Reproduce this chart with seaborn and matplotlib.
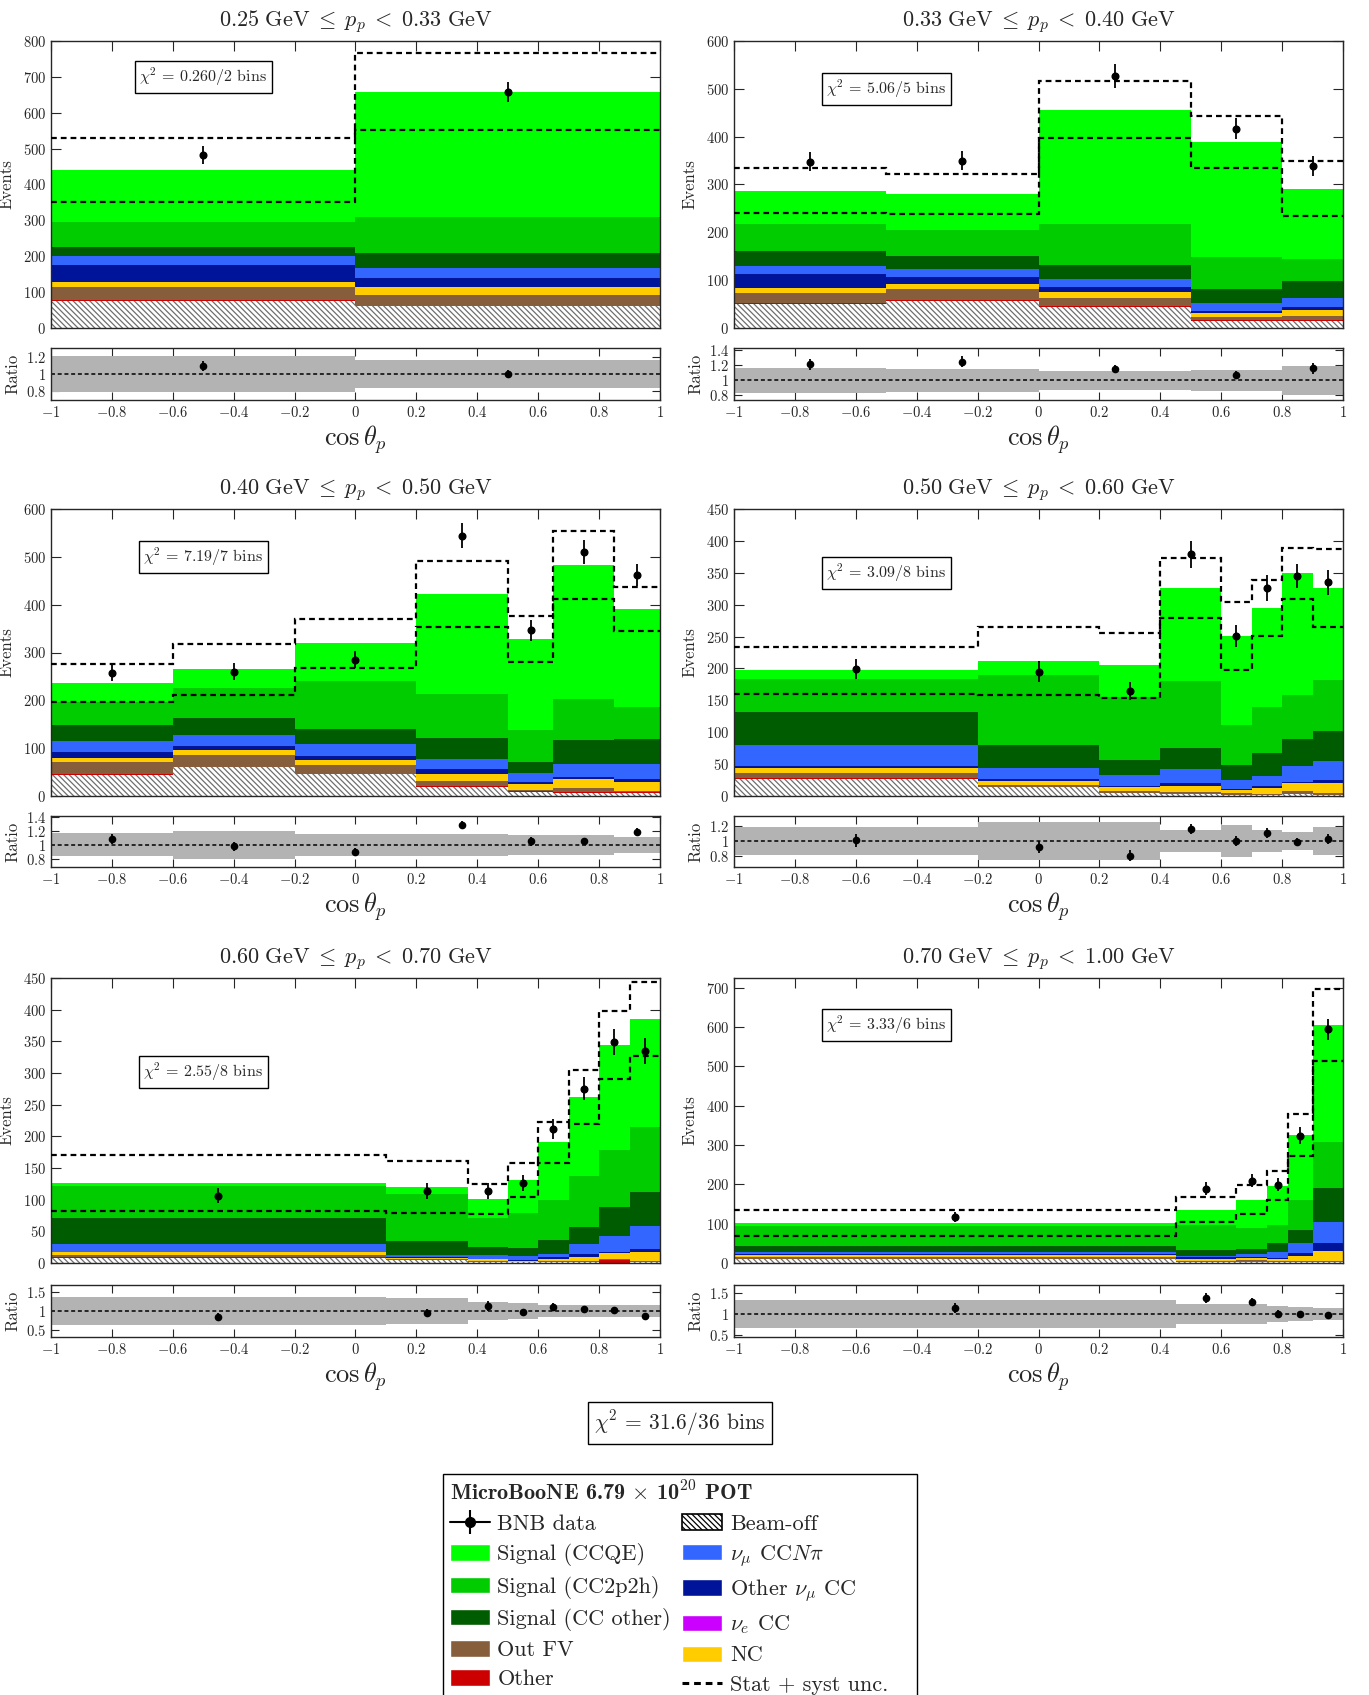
import numpy as np
import pandas as pd
import matplotlib
matplotlib.use("Agg")
import matplotlib.pyplot as plt
import seaborn as sns
from matplotlib.patches import Patch, Rectangle
from matplotlib.lines import Line2D
from matplotlib.ticker import FuncFormatter, FixedLocator

# ------------------------------------------------------------------ data
p_lo = [0.25, 0.33, 0.40, 0.50, 0.60, 0.70]
p_hi = [0.33, 0.40, 0.50, 0.60, 0.70, 1.00]

bin_edges = [
    [-1, 0, 1],
    [-1, -0.5, 0, 0.5, 0.8, 1],
    [-1, -0.6, -0.2, 0.2, 0.5, 0.65, 0.85, 1],
    [-1, -0.2, 0.2, 0.4, 0.6, 0.7, 0.8, 0.9, 1],
    [-1, 0.1, 0.37, 0.5, 0.6, 0.7, 0.8, 0.9, 1],
    [-1, 0.45, 0.65, 0.75, 0.82, 0.9, 1],
]

beam_off = [
    [75, 60],
    [51, 57, 43, 15, 15],
    [44, 60, 45, 19, 8.5, 6, 5.5],
    [27.3, 13.6, 5, 3, 2, 1.5, 2.6, 2],
    [8.4, 4, 1.5, 1, 1.5, 1, 0.5, 1],
    [11, 3.4, 3.4, 2.5, 1.7, 1.7],
]
other = [
    [3, 1],
    [1.5, 1, 2, 1, 1],
    [1.5, 1, 1, 1, 2, 2, 2],
    [1.5, 1, 0, 0, 0, 0, 0, 0],
    [0.5, 0, 0, 0, 0, 0, 3.7, 1],
    [0, 0, 0, 0, 0, 0],
]
out_fv = [
    [35, 32],
    [20.5, 23, 18, 7, 10],
    [26, 24.5, 19, 12, 2.5, 8, 2.5],
    [7.9, 3.3, 2.3, 3, 2, 1.5, 5.8, 2],
    [3.1, 2, 1.1, 1, 1.5, 1.6, 1.6, 1.7],
    [3.4, 2.6, 3.4, 2.5, 3.3, 2.3],
]
nc = [
    [15, 21],
    [10, 12, 12, 8, 11],
    [8.5, 10.5, 11, 13, 12, 19, 19.5],
    [7.3, 5.6, 6.7, 10, 6, 9.6, 12.6, 16],
    [5, 2.4, 3.4, 1, 4, 7.4, 10.5, 14.3],
    [5.6, 5, 5.9, 6, 12.8, 25.6],
]
nue_cc = [
    [0, 0],
    [0, 0, 0, 0, 0],
    [0, 0, 0, 0, 0, 0, 0],
    [0, 0, 0, 0, 0, 0, 0, 0],
    [0, 0, 0, 0, 0, 0, 0, 0],
    [0, 0, 0, 0, 0, 0],
]
other_numu_cc = [
    [48, 24],
    [30.5, 13.5, 10, 5.5, 7],
    [12, 8, 7.5, 10.5, 5, 5, 7],
    [2.7, 3.7, 1, 5, 1.5, 3.4, 1.6, 5],
    [1, 1.1, 1, 1, 2, 4.7, 1.7, 4],
    [3, 3.4, 2.3, 1.7, 6.7, 20.4],
]
numu_ccnpi = [
    [24, 29],
    [15.5, 16.5, 18, 16.5, 18],
    [23, 23, 25.5, 21.5, 18, 27, 30],
    [33.3, 17.3, 18, 21, 13.5, 15.5, 24.4, 30.6],
    [12, 3.1, 5, 6.5, 6, 15.3, 24.6, 36.4],
    [4, 2.6, 8, 14.3, 26.2, 55],
]
signal_cc_other = [
    [26, 41],
    [31.5, 28, 29.5, 29, 35.5],
    [34, 36, 32, 44, 24, 50, 52],
    [51, 35, 23.7, 33, 24, 35.5, 42, 46.4],
    [41.6, 21.4, 14, 13.2, 21, 27, 46.4, 54.2],
    [15, 15, 11.7, 23.7, 34.3, 86],
]
signal_cc2p2h = [
    [70, 102],
    [56.5, 54, 84.5, 67, 47.5],
    [48, 62, 100, 93, 65, 86, 67.5],
    [52, 110, 98, 105, 63, 72, 69, 80.6],
    [50, 75.5, 45.6, 55.8, 64, 80, 89, 102.4],
    [52.7, 65, 53.3, 45.7, 75, 116],
]
signal_ccqe = [
    [145, 349],
    [70, 75, 239, 240, 146],
    [39.5, 40, 78, 208, 191, 280.5, 204],
    [14, 22.5, 50, 146, 139, 156, 191, 143.4],
    [4.4, 11, 28.9, 51, 90.5, 125, 165.7, 170],
    [7.3, 39, 73.5, 100.6, 166, 298],
]

bnb_data = [
    [483, 659],
    [348, 350, 527, 417, 338],
    [258, 260, 285, 544.5, 346, 510, 461],
    [199, 195, 165, 379, 251, 326, 345, 335],
    [106, 113.7, 114, 126, 212, 275, 349.5, 335],
    [116.6, 189, 209, 199.5, 324, 595],
]
bnb_data_err = [
    [25, 28],
    [20, 20.5, 25, 22, 21],
    [17.5, 17.5, 18, 25.5, 21, 25, 23],
    [16, 16, 14.5, 21, 17.5, 20, 19, 19.5],
    [12, 12, 12.5, 12.5, 16, 18, 20.5, 20],
    [13, 17, 16.5, 16, 21, 26.5],
]
stat_syst_unc = [
    [90, 107],
    [47.5, 41.5, 59.5, 54, 57.5],
    [39.5, 53, 51.5, 68.5, 48, 71.5, 46],
    [37, 53, 51, 47.5, 53.5, 44, 40, 60.5],
    [44.5, 41, 23.5, 26.7, 32, 43, 53.5, 58],
    [33.5, 32.5, 37.5, 37, 53.5, 92],
]

chi2_values = ["0.260", "5.06", "7.19", "3.09", "2.55", "3.33"]
chi2_bins = [2, 5, 7, 8, 8, 6]
chi2_total = "31.6"
chi2_total_bins = 36

events_ymax = [800, 600, 600, 450, 450, 725]
events_ticks = [
    list(range(0, 801, 100)),
    list(range(0, 601, 100)),
    list(range(0, 601, 100)),
    list(range(0, 451, 50)),
    list(range(0, 451, 50)),
    list(range(0, 701, 100)),
]
ratio_ylim = [(0.7, 1.3), (0.74, 1.43), (0.68, 1.42), (0.66, 1.33), (0.32, 1.68), (0.45, 1.70)]
ratio_ticks = [[0.8, 1, 1.2], [0.8, 1, 1.2, 1.4], [0.8, 1, 1.2, 1.4], [0.8, 1, 1.2],
               [0.5, 1, 1.5], [0.5, 1, 1.5]]
chi2_box_y = [0.875, 0.833, 0.833, 0.777, 0.67, 0.835]

# ------------------------------------------------------------------ style
sns.set_style("ticks")
plt.rcParams["font.family"] = "cmr10"
plt.rcParams["mathtext.fontset"] = "cm"
plt.rcParams["axes.formatter.use_mathtext"] = True
plt.rcParams["axes.unicode_minus"] = False
plt.rcParams["hatch.linewidth"] = 0.9
plt.rcParams["axes.linewidth"] = 1.0

layer_colors = ["white", "#cc0000", "#865e3c", "#ffcc00", "#cc00ff",
                "#00149a", "#3366ff", "#005c00", "#00cc00", "#00ff00"]
hatch_color = "#6e6e6e"
hatch_pattern = "\\\\\\\\\\\\"
dash = (0, (2.6, 1.8))

W, H = 1369, 1695
fig = plt.figure(figsize=(W / 100, H / 100), dpi=100)


def rect(x0, y0, x1, y1):
    return [x0 / W, 1 - y1 / H, (x1 - x0) / W, (y1 - y0) / H]


col_x = [(51, 660), (734, 1343)]
row_y = [((41, 328), (348, 400)), ((509, 796), (816, 867)), ((978, 1263), (1285, 1337))]

num_fmt = FuncFormatter(lambda v, pos: f"${np.round(v, 3) + 0.0:g}$")
xt = np.round(np.arange(-1, 1.001, 0.2), 2) + 0.0

for i in range(6):
    r, c = divmod(i, 2)
    (my0, my1), (ry0, ry1) = row_y[r]
    x0, x1 = col_x[c]
    ax = fig.add_axes(rect(x0, my0, x1, my1))
    axr = fig.add_axes(rect(x0, ry0, x1, ry1))

    edges = np.array(bin_edges[i], float)
    centers = 0.5 * (edges[1:] + edges[:-1])
    layers = [beam_off[i], other[i], out_fv[i], nc[i], nue_cc[i], other_numu_cc[i],
              numu_ccnpi[i], signal_cc_other[i], signal_cc2p2h[i], signal_ccqe[i]]
    cum = np.cumsum(np.array(layers, float), axis=0)
    mc = cum[-1]

    # stacked histogram: draw cumulative totals from the top down
    for k in reversed(range(len(layers))):
        df = pd.DataFrame({"cos": centers, "w": cum[k]})
        n_before = len(ax.collections)
        sns.histplot(data=df, x="cos", weights="w", bins=list(bin_edges[i]),
                     element="step", fill=True, color=layer_colors[k], alpha=1,
                     linewidth=0, ax=ax)
        if k == 0:
            for coll in ax.collections[n_before:]:
                coll.set_facecolor("white")
                coll.set_edgecolor(hatch_color)
                coll.set_hatch(hatch_pattern)
                coll.set_linewidth(0)

    unc = np.array(stat_syst_unc[i], float)
    ax.stairs(mc + unc, edges, baseline=None, color="k", lw=1.6, ls=dash, zorder=4)
    ax.stairs(mc - unc, edges, baseline=None, color="k", lw=1.6, ls=dash, zorder=4)

    d = np.array(bnb_data[i], float)
    de = np.array(bnb_data_err[i], float)
    ax.errorbar(centers, d, yerr=de, fmt="o", color="k", ms=4.8, elinewidth=1.3,
                capsize=0, zorder=6)

    ax.set_xlim(-1, 1)
    ax.set_ylim(0, events_ymax[i])
    ax.set_xticks(xt)
    ax.yaxis.set_major_locator(FixedLocator(events_ticks[i]))
    ax.yaxis.set_major_formatter(num_fmt)
    ax.tick_params(direction="in", top=True, right=True, length=7, width=0.8,
                   labelbottom=False, labelsize=10.5)
    ax.set_xlabel("")
    ax.set_ylabel("Events", fontsize=12, labelpad=6)
    ax.set_title(rf"${p_lo[i]:.2f}\ \mathrm{{GeV}}\;\leq\;p_p\;<\;{p_hi[i]:.2f}\ \mathrm{{GeV}}$",
                 fontsize=16, pad=11)
    ax.text(0.25, chi2_box_y[i], rf"$\chi^2\,=\,{chi2_values[i]}/{chi2_bins[i]}$ bins",
            transform=ax.transAxes, ha="center", va="center", fontsize=11.5, zorder=7,
            bbox=dict(boxstyle="square,pad=0.3", fc="white", ec="black", lw=1.0))

    # ratio panel
    rel = unc / mc
    axr.stairs(1 + rel, edges, baseline=1 - rel, fill=True, color="#b3b3b3", lw=0)
    axr.axhline(1, color="k", ls=dash, lw=1.1)
    axr.errorbar(centers, d / mc, yerr=de / mc, fmt="o", color="k", ms=4.5,
                 elinewidth=1.3, capsize=0, zorder=6)
    axr.set_xlim(-1, 1)
    axr.set_ylim(*ratio_ylim[i])
    axr.set_xticks(xt)
    axr.xaxis.set_major_formatter(num_fmt)
    axr.yaxis.set_major_locator(FixedLocator(ratio_ticks[i]))
    axr.yaxis.set_major_formatter(num_fmt)
    axr.tick_params(direction="in", top=True, right=True, length=6, width=0.8,
                    labelsize=10.5)
    axr.set_ylabel("Ratio", fontsize=12, labelpad=4)
    axr.set_xlabel(r"$\cos\theta_p$", fontsize=19, labelpad=2)

# total chi2
fig.text(680 / W, 1 - 1423 / H, rf"$\chi^2\,=\,{chi2_total}/{chi2_total_bins}$ bins",
         ha="center", va="center", fontsize=15.5,
         bbox=dict(boxstyle="square,pad=0.3", fc="white", ec="black", lw=1.0))

# legend
h_data = (Line2D([], [], color="k", lw=1.5, marker="o", ms=7),
          Line2D([], [], color="k", ls="none", marker="|", ms=17, mew=1.5))
handles = [
    h_data,
    Patch(fc=layer_colors[9]), Patch(fc=layer_colors[8]), Patch(fc=layer_colors[7]),
    Patch(fc=layer_colors[2]), Patch(fc=layer_colors[1]),
    Patch(fc="white", ec="black", hatch=hatch_pattern, lw=1.2),
    Patch(fc=layer_colors[6]), Patch(fc=layer_colors[5]), Patch(fc=layer_colors[4]),
    Patch(fc=layer_colors[3]),
    Line2D([], [], color="k", lw=2.2, ls=(0, (2.2, 1.6))),
]
labels = [
    "BNB data", "Signal (CCQE)", "Signal (CC2p2h)", "Signal (CC other)", "Out FV", "Other",
    "Beam-off", r"$\nu_\mu$ CC$N\pi$", r"Other $\nu_\mu$ CC", r"$\nu_e$ CC", "NC",
    "Stat + syst unc.",
]
leg = fig.legend(handles, labels, ncol=2, loc="upper left",
                 bbox_to_anchor=(443 / W, 1 - 1474 / H), borderaxespad=0,
                 frameon=False, fontsize=16,
                 title=r"MicroBooNE 6.79 $\mathbf{\times}$ 10$^{\mathbf{20}}$ POT",
                 title_fontproperties={"family": "cmb10", "size": 16},
                 alignment="left", handlelength=1.8,
                 handleheight=0.75, labelspacing=0.42, columnspacing=0.5,
                 borderpad=0.3, handletextpad=0.35)
fig.add_artist(Rectangle((443 / W, -0.01), 474 / W, 1 - 1474 / H + 0.01,
                         transform=fig.transFigure, fill=False, ec="black", lw=1.0))

fig.savefig("out.png", dpi=100)
